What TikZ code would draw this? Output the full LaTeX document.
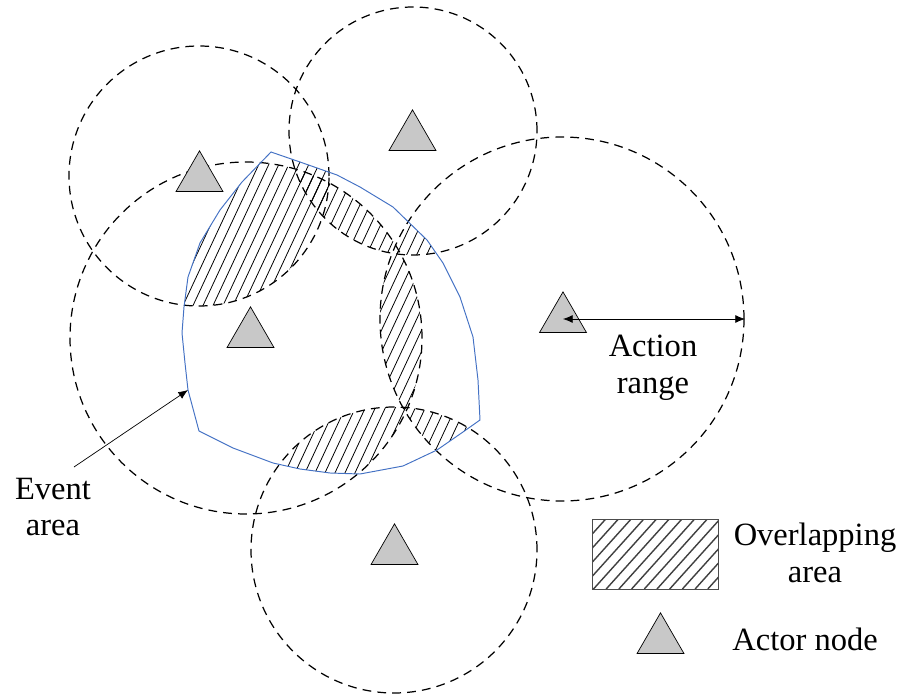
\documentclass[tikz,border=0pt]{standalone}
\usepackage{fontspec}
\setmainfont{Liberation Serif}
\usepackage{tikz}
\usetikzlibrary{shapes.geometric,arrows.meta}
\definecolor{actorgray}{RGB}{200,200,200}
\definecolor{eventblue}{RGB}{68,114,196}
\tikzset{actor/.style={regular polygon,regular polygon sides=3,draw,fill=actorgray,
   minimum size=1.085cm,inner sep=0pt},
 actrange/.style={draw,dash pattern=on 5pt off 3.5pt,line width=0.7pt},
 hatchline/.style={line width=0.45pt},
 eventline/.style={draw=eventblue,line width=0.55pt},
 txt/.style={font=\fontsize{18.5}{21}\selectfont,align=center},
 pointer/.style={-{Latex[length=5.5pt,width=4.5pt]}},
 bipointer/.style={{Latex[length=5.5pt,width=4.5pt]}-{Latex[length=5.5pt,width=4.5pt]}},
 }
\newcommand{\eventarea}{(5.42,10.92) -- (6.00,10.72) -- (6.74,10.46) -- (7.20,10.22)
 -- (7.86,9.82) -- (8.54,9.16) -- (8.86,8.70) -- (9.20,8.02) -- (9.46,7.22)
 -- (9.56,6.36) -- (9.60,5.56) -- (9.26,5.32) -- (8.74,4.96) -- (8.06,4.64)
 -- (7.20,4.48) -- (6.60,4.50) -- (6.00,4.58) -- (5.46,4.70) -- (4.66,5.00)
 -- (3.98,5.34) -- (3.76,6.16) -- (3.70,6.70) -- (3.64,7.30) -- (3.68,7.82)
 -- (3.76,8.42) -- (4.00,9.10) -- (4.40,9.76) -- (4.84,10.32) -- cycle}
\newcommand{\hatchlines}[1]{\foreach \k in {-10,...,50} {\draw[hatchline] (0.2*\k,0) -- ++(#1:15.5);}}

\begin{document}
\begin{tikzpicture}
    \useasboundingbox (0,0) rectangle (18.04,13.96);
    \coordinate (cA) at (3.98,10.44);
    \coordinate (cB) at (8.26,11.34);
    \coordinate (cC) at (4.92,7.20);
    \coordinate (cD) at (11.24,7.58);
    \coordinate (cE) at (7.88,2.96);

    \foreach \p/\rp/\q/\rq in {A/2.6/B/2.48, A/2.6/C/3.52, B/2.48/C/3.52, B/2.48/D/3.64,
        C/3.52/D/3.64, C/3.52/E/2.86, D/3.64/E/2.86} {
        \begin{scope}
            \clip \eventarea;
            \clip (c\p) circle (\rp);
            \clip (c\q) circle (\rq);
            \hatchlines{65}
        \end{scope}
    }

    \draw[actrange] (cA) circle (2.6);
    \draw[actrange] (cB) circle (2.48);
    \draw[actrange] (cC) circle (3.52);
    \draw[actrange] (cD) circle (3.64);
    \draw[actrange] (cE) circle (2.86);

    \draw[eventline] \eventarea;

    \node[actor] (tA) at (3.99,10.40) {};
    \node[actor] (tB) at (8.25,11.22) {};
    \node[actor] (tC) at (5.01,7.28) {};
    \node[actor] (tD) at (11.26,7.58) {};
    \node[actor] (tE) at (7.89,2.94) {};

    \coordinate (rangeend) at (14.90,7.58);
    \draw[bipointer] (tD.center) -- (rangeend);
    \node[txt] (rangetxt) at (13.06,6.60) {Action\\range};

    \coordinate (evtail) at (1.48,4.62);
    \coordinate (evhead) at (3.76,6.16);
    \draw[pointer] (evtail) -- (evhead);
    \node[txt] (eventtxt) at (1.06,3.82) {Event\\area};

    \node[minimum width=2.5cm,minimum height=1.38cm,inner sep=0pt] (overlapbox) at (13.11,2.87) {};
    \begin{scope}
        \clip (overlapbox.south west) rectangle (overlapbox.north east);
        \foreach \k in {0,...,16} {\draw[line width=0.8pt,black!75] (10.6+0.254*\k,2.18) -- ++(48:2.2);}
    \end{scope}
    \draw[black!70] (overlapbox.south west) rectangle (overlapbox.north east);
    \node[txt] (overlaptxt) at (16.30,2.90) {Overlapping\\area};

    \node[actor] (legactor) at (13.21,1.16) {};
    \node[txt,anchor=west,inner sep=0pt] (actortxt) at (14.64,1.18) {Actor node};
\end{tikzpicture}
\end{document}
